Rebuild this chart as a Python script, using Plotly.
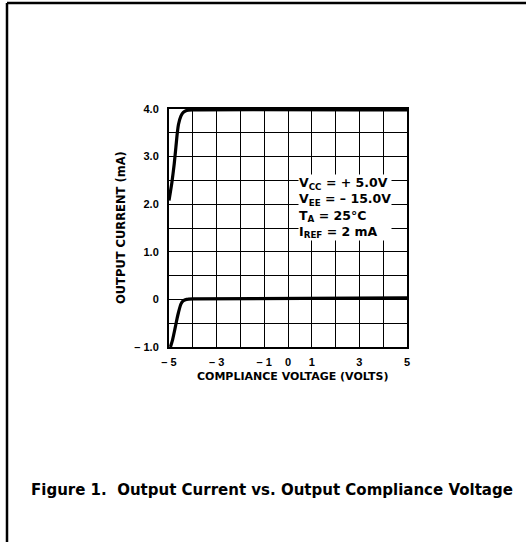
import plotly.graph_objects as go

# Data
upper_v = [-5.0, -4.96, -4.88, -4.78, -4.71, -4.65, -4.60, -4.50, -4.40, -4.26, -4.0, 5.0]
upper_i = [2.08, 2.20, 2.45, 2.85, 3.20, 3.50, 3.68, 3.85, 3.93, 3.97, 3.98, 3.98]
lower_v = [-4.94, -4.85, -4.75, -4.66, -4.60, -4.50, -4.40, -4.26, -4.0, 5.0]
lower_i = [-1.0, -0.85, -0.62, -0.40, -0.27, -0.10, -0.03, 0.0, 0.01, 0.03]

x_tickvals = [-5, -3, -1, 0, 1, 3, 5]
x_ticktext = ["\u2013 5", "\u2013 3", "\u2013 1", "0", "1", "3", "5"]
x_grid_step = 1
y_tickvals = [-1.0, 0, 1.0, 2.0, 3.0, 4.0]
y_ticktext = ["\u2013 1.0", "0", "1.0", "2.0", "3.0", "4.0"]
y_grid_step = 0.5

x_title = "COMPLIANCE VOLTAGE (VOLTS)"
y_title = "OUTPUT CURRENT (mA)"
conditions = ("V<sub>CC</sub> = + 5.0V<br>V<sub>EE</sub> = \u2013 15.0V<br>"
              "T<sub>A</sub> = 25\u00b0C<br>I<sub>REF</sub> = 2 mA")
caption = "Figure 1.  Output Current vs. Output Compliance Voltage"

FONT = "Liberation Sans, Arial, sans-serif"
WIDE = "DejaVu Sans, Verdana, sans-serif"
W, H = 526, 549
L, R, T, B = 169, 119, 109, 202
pw, ph = W - L - R, H - T - B

def px(x):
    return (x - L) / pw

def py(y):
    return 1 - (y - T) / ph

fig = go.Figure()
for xs, ys in [(upper_v, upper_i), (lower_v, lower_i)]:
    fig.add_trace(go.Scatter(x=xs, y=ys, mode="lines",
                             line=dict(color="black", width=3.2, shape="spline", smoothing=0.6),
                             showlegend=False, hoverinfo="skip", cliponaxis=False))

grid = dict(showgrid=True, gridcolor="black", gridwidth=1.4)
fig.update_layout(
    width=W, height=H,
    margin=dict(l=L, r=R, t=T, b=B),
    paper_bgcolor="white", plot_bgcolor="white",
    font=dict(family=FONT, color="black", size=11, weight="bold"),
    xaxis=dict(range=[-5, 5], tickvals=x_tickvals, ticktext=x_ticktext, **grid,
               minor=dict(tick0=-5, dtick=x_grid_step, ticks="", **grid),
               showline=True, linecolor="black", linewidth=2, mirror=True,
               ticks="", zeroline=False, tickfont=dict(size=11, weight="bold"),
               ticklabelstandoff=4),
    yaxis=dict(range=[-1, 4], tickvals=y_tickvals, ticktext=y_ticktext, **grid,
               minor=dict(tick0=-1, dtick=y_grid_step, ticks="", **grid),
               showline=True, linecolor="black", linewidth=2, mirror=True,
               ticks="", zeroline=False, tickfont=dict(size=11, weight="bold"),
               ticklabelstandoff=6),
)

fig.add_annotation(x=0.42, y=2.63, xref="x", yref="y", xanchor="left", yanchor="top",
                   text=conditions, showarrow=False, align="left",
                   bgcolor="white", borderpad=0,
                   font=dict(size=12.5, weight="bold", family=WIDE))

fig.add_annotation(x=px(292), y=py(385), xref="paper", yref="paper",
                   text=x_title, showarrow=False,
                   font=dict(size=11, weight="bold", family=WIDE))
fig.add_annotation(x=px(112), y=py(228), xref="paper", yref="paper",
                   text=y_title, showarrow=False, textangle=-90,
                   font=dict(size=11.5, weight="bold", family=WIDE))
fig.add_annotation(x=px(272), y=py(501), xref="paper", yref="paper",
                   text=caption, showarrow=False,
                   font=dict(size=15, weight="bold", family=WIDE))

# page frame (top and left edges)
fig.add_shape(type="line", xref="paper", yref="paper",
              x0=px(7), x1=px(526), y0=py(3), y1=py(3),
              line=dict(color="black", width=2.5))
fig.add_shape(type="line", xref="paper", yref="paper",
              x0=px(7), x1=px(7), y0=py(3), y1=py(542),
              line=dict(color="black", width=2.5))

fig.write_html("out.html", config={"displayModeBar": False},
               post_script="document.body.style.margin='0';")
